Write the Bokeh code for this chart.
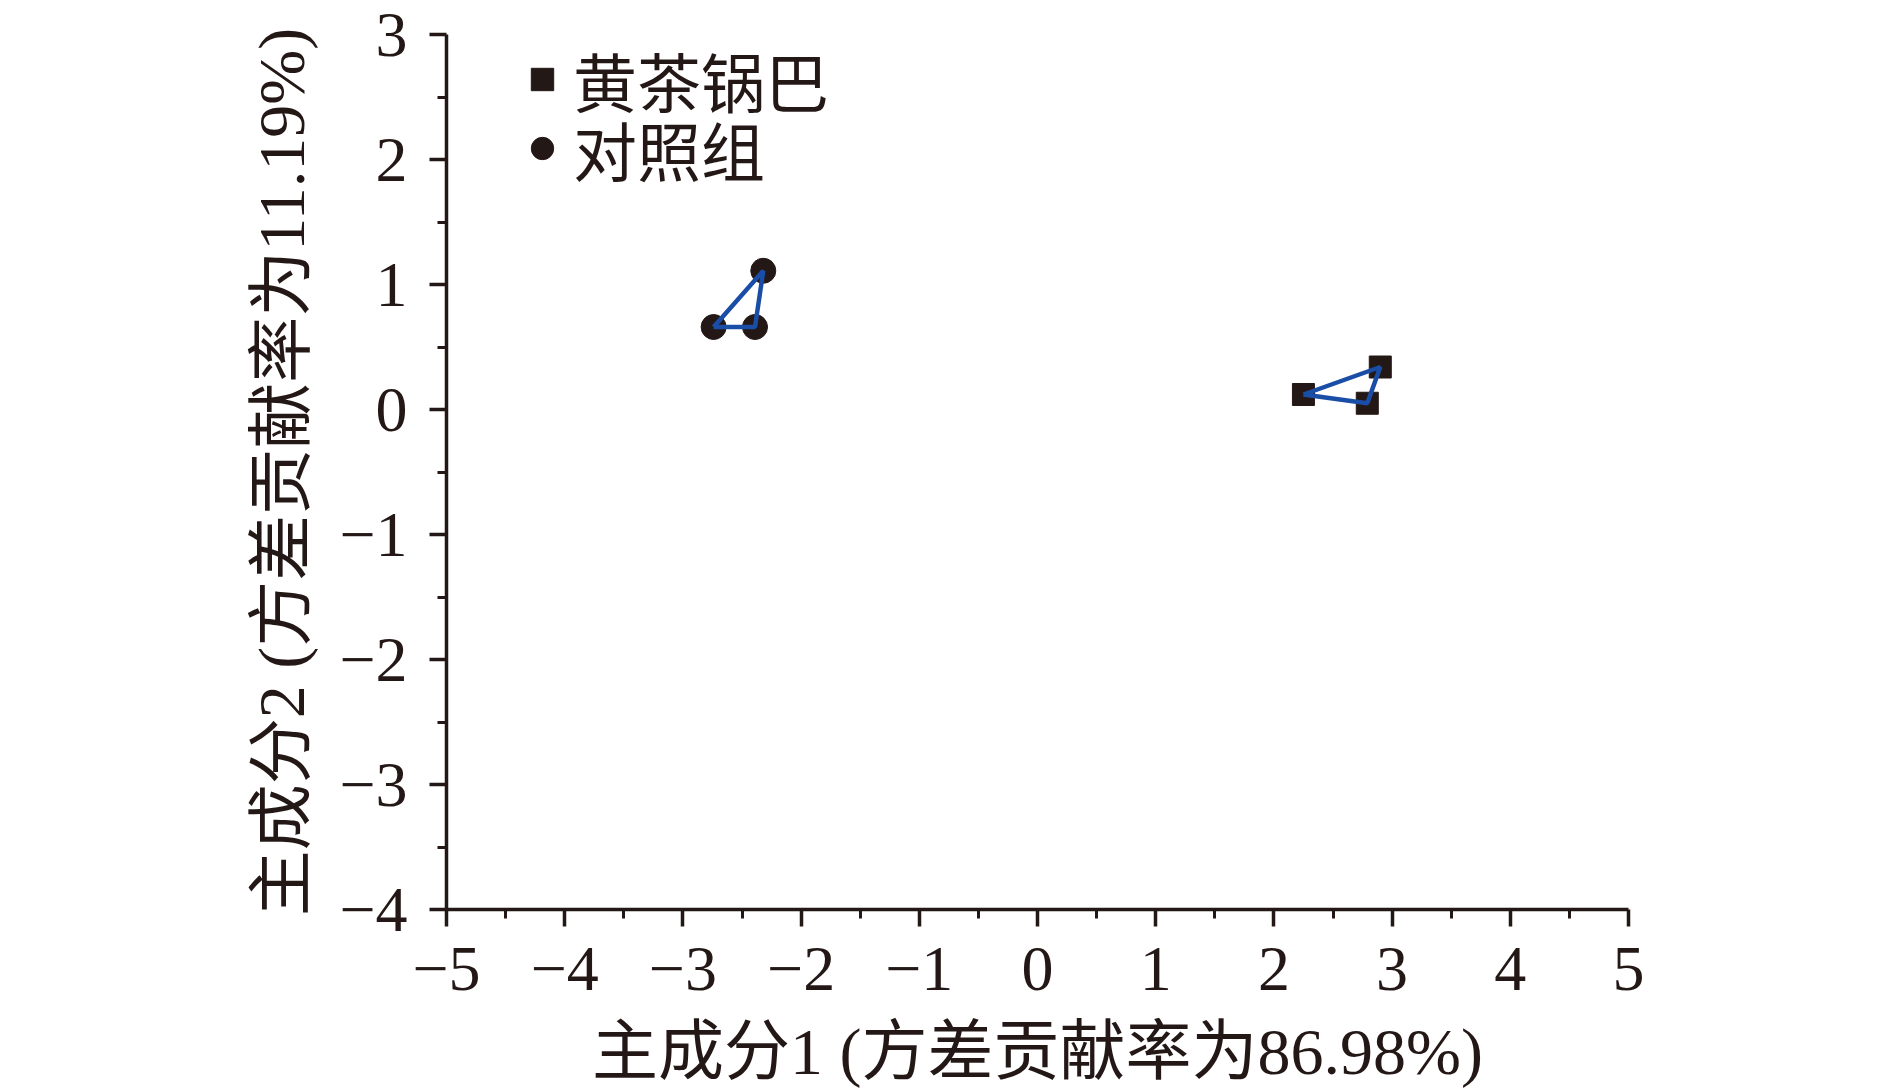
from bokeh.plotting import figure
from bokeh.models import Legend, LegendItem, Range1d, FixedTicker
from bokeh.embed import file_html
from bokeh.resources import INLINE

# ---- data ----
sample_x = [2.25, 2.79, 2.90]          # 黄茶锅巴
sample_y = [0.12, 0.05, 0.34]
control_x = [-2.74, -2.39, -2.32]      # 对照组
control_y = [0.66, 0.66, 1.11]
sample_hull = [0, 1, 2, 0]
control_hull = [0, 2, 1, 0]

x_ticks = [-5, -4, -3, -2, -1, 0, 1, 2, 3, 4, 5]
y_ticks = [-4, -3, -2, -1, 0, 1, 2, 3]
x_label = "主成分1 (方差贡献率为86.98%)"
y_label = "主成分2 (方差贡献率为11.19%)"
series_names = ["黄茶锅巴", "对照组"]

INK = "#231815"
BLUE = "#1a4ea6"
NUM_FONT = "Liberation Serif"
CJK_FONT = "'Liberation Serif', 'Noto Sans CJK SC'"

W, H = 1874, 1076
p = figure(width=W, height=H, output_backend="svg", toolbar_location=None,
           x_range=Range1d(-5, 5), y_range=Range1d(-4, 3),
           min_border_left=446, min_border_top=34, min_border_right=246,
           min_border_bottom=167)
p.frame_width = 1182
p.frame_height = 875
p.outline_line_color = None
p.grid.grid_line_color = None
p.background_fill_color = "white"
p.border_fill_color = "white"

def minus(v):
    return ("\u2212" + str(abs(v))) if v < 0 else str(v)

for ax, ticks in ((p.xaxis[0], x_ticks), (p.yaxis[0], y_ticks)):
    ax.ticker = FixedTicker(ticks=ticks,
                            minor_ticks=[t + 0.5 for t in ticks[:-1]])
    ax.major_label_overrides = {t: minus(t) for t in ticks}
    ax.axis_line_width = 3.5
    ax.axis_line_color = INK
    ax.major_tick_line_width = 3.5
    ax.major_tick_line_color = INK
    ax.minor_tick_line_width = 3
    ax.minor_tick_line_color = INK
    ax.major_tick_out = 17
    ax.major_tick_in = 0
    ax.minor_tick_out = 9
    ax.minor_tick_in = 0
    ax.major_label_text_font = NUM_FONT
    ax.major_label_text_font_size = "64px"
    ax.major_label_text_color = INK
    ax.axis_label_text_font = CJK_FONT
    ax.axis_label_text_font_size = "66px"
    ax.axis_label_text_font_style = "normal"
    ax.axis_label_text_color = INK

p.xaxis.axis_label = x_label
p.yaxis.axis_label = y_label
p.xaxis.major_label_standoff = 21
p.yaxis.major_label_standoff = 22
p.xaxis.axis_label_standoff = 22
p.yaxis.axis_label_standoff = 18

r1 = p.scatter(sample_x, sample_y, marker="square", size=22,
               fill_color=INK, line_color=INK)
r2 = p.scatter(control_x, control_y, marker="circle", size=25,
               fill_color=INK, line_color=INK)

p.line([sample_x[i] for i in sample_hull], [sample_y[i] for i in sample_hull],
       line_color=BLUE, line_width=4.5)
p.line([control_x[i] for i in control_hull], [control_y[i] for i in control_hull],
       line_color=BLUE, line_width=4.5)

def make_legend(name, rend, loc):
    lg = Legend(items=[LegendItem(label=name, renderers=[rend])],
                location=loc, orientation="vertical")
    lg.label_text_font = "Noto Sans CJK SC"
    lg.label_text_font_size = "64px"
    lg.label_text_color = INK
    lg.glyph_width = 56
    lg.glyph_height = 56
    lg.spacing = 0
    lg.padding = 0
    lg.margin = 0
    lg.label_standoff = 3
    lg.border_line_color = None
    lg.background_fill_alpha = 0
    return lg

p.add_layout(make_legend(series_names[0], r1, (68, 784)), "center")
p.add_layout(make_legend(series_names[1], r2, (68, 715)), "center")

open("out.html", "w").write(file_html(p, INLINE))
